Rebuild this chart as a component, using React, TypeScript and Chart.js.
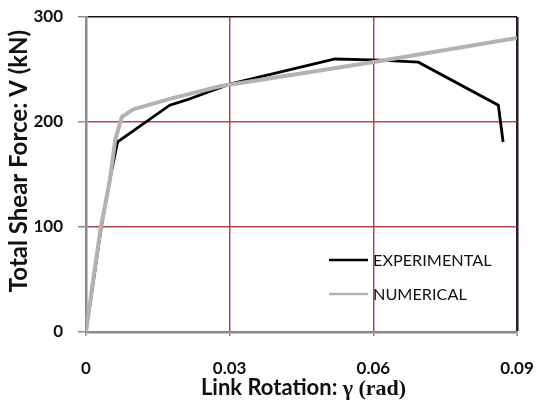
import React, { useEffect, useRef } from 'react';
import { Chart, registerables } from 'chart.js';

Chart.register(...registerables);

// ---- Data ----
const expRotation = [0, 0.0032, 0.0052, 0.0066, 0.0175, 0.021, 0.03, 0.052, 0.0614, 0.0694, 0.0861, 0.0871];
const expShear = [0, 100, 150, 181, 216, 221, 236, 260, 259, 257, 216, 181];

const numRotation = [0, 0.0015, 0.0031, 0.005, 0.0061, 0.0075, 0.0099, 0.0175, 0.028, 0.0614, 0.09];
const numShear = [0, 50, 100, 145, 183, 205, 212, 222, 234, 258, 280];

const xTickValues = [0, 0.03, 0.06, 0.09];
const xTickLabels = ['0', '0.03', '0.06', '0.09'];
const yTickValues = [0, 100, 200, 300];
const yTickLabels = ['0', '100', '200', '300'];

const seriesNames = ['EXPERIMENTAL', 'NUMERICAL'];
const xTitleSans = 'Link Rotation: ';
const xTitleSerif = 'γ (rad)';
const yTitle = 'Total Shear Force: V (kN)';

const SANS = 'Lato, "Open Sans", sans-serif';
const SERIF = '"Liberation Serif", "DejaVu Serif", serif';
const RED = '#b5474a';
const AXIS_GRAY = '#8c8c8c';
const NUM_GRAY = '#b3b3b3';

function fitFont(ctx: CanvasRenderingContext2D, text: string, weight: string, family: string, target: number, max: number) {
  let s = max;
  for (; s > 8; s -= 0.25) {
    ctx.font = `${weight} ${s}px ${family}`;
    if (ctx.measureText(text).width <= target) break;
  }
  return s;
}

const decorPlugin = {
  id: 'decor',
  afterDraw(chart: any) {
    const ctx: CanvasRenderingContext2D = chart.ctx;
    const { left, right, top, bottom } = chart.chartArea;
    ctx.save();
    ctx.fillStyle = '#111';

    // Y title
    const ys = fitFont(ctx, yTitle, 'bold', SANS, 282, 24);
    ctx.font = `bold ${ys}px ${SANS}`;
    ctx.translate(19, top + 144);
    ctx.rotate(-Math.PI / 2);
    ctx.textAlign = 'center';
    ctx.textBaseline = 'middle';
    ctx.fillText(yTitle, 0, 0);
    ctx.setTransform(1, 0, 0, 1, 0, 0);

    // X title (mixed fonts)
    let s = 24;
    let w1 = 0, w2 = 0;
    for (; s > 8; s -= 0.25) {
      ctx.font = `bold ${s}px ${SANS}`;
      w1 = ctx.measureText(xTitleSans).width;
      ctx.font = `bold ${s}px ${SERIF}`;
      w2 = ctx.measureText(xTitleSerif).width;
      if (w1 + w2 <= 207) break;
    }
    const cx = (left + right) / 2 + 2;
    const x0 = cx - (w1 + w2) / 2;
    const by = bottom + 63;
    ctx.textAlign = 'left';
    ctx.textBaseline = 'alphabetic';
    ctx.font = `bold ${s}px ${SANS}`;
    ctx.fillText(xTitleSans, x0, by);
    ctx.font = `bold ${s}px ${SERIF}`;
    ctx.fillText(xTitleSerif, x0 + w1, by);

    // Legend
    const lx0 = left + 243;
    const lx1 = left + 282;
    const tx = left + 287;
    const rows = [
      { y: top + 243, color: '#000', width: 2.5 },
      { y: top + 277, color: NUM_GRAY, width: 2.5 },
    ];
    const ls = fitFont(ctx, seriesNames[0], 'normal', SANS, 119, 20);
    rows.forEach((r, i) => {
      ctx.strokeStyle = r.color;
      ctx.lineWidth = r.width;
      ctx.beginPath();
      ctx.moveTo(lx0, r.y);
      ctx.lineTo(lx1, r.y);
      ctx.stroke();
      ctx.fillStyle = '#111';
      ctx.font = `normal ${ls}px ${SANS}`;
      ctx.textBaseline = 'middle';
      ctx.fillText(seriesNames[i], tx, r.y + 1);
    });
    ctx.restore();
  },
};

export default function App() {
  const ref = useRef<HTMLCanvasElement | null>(null);
  useEffect(() => {
    if (!ref.current) return;
    const chart = new Chart(ref.current, {
      type: 'line',
      data: {
        datasets: [
          {
            label: seriesNames[0],
            data: expRotation.map((x, i) => ({ x, y: expShear[i] })),
            borderColor: '#000',
            borderWidth: 2.8,
            pointRadius: 0,
            tension: 0,
            fill: false,
            order: 1,
          },
          {
            label: seriesNames[1],
            data: numRotation.map((x, i) => ({ x, y: numShear[i] })),
            borderColor: NUM_GRAY,
            borderWidth: 4,
            pointRadius: 0,
            tension: 0,
            fill: false,
            order: 0,
          },
        ],
      },
      options: {
        responsive: false,
        animation: false,
        devicePixelRatio: 1,
        layout: { padding: { left: 0, top: 17, right: 21, bottom: 0 } },
        plugins: { legend: { display: false }, tooltip: { enabled: false }, title: { display: false } },
        scales: {
          x: {
            type: 'linear',
            min: 0,
            max: 0.09,
            afterBuildTicks: (scale: any) => {
              scale.ticks = xTickValues.map((v) => ({ value: v }));
            },
            afterFit: (scale: any) => {
              scale.height = 78;
              scale.paddingLeft = 0;
              scale.paddingRight = 0;
            },
            ticks: {
              callback: (_v: any, i: number) => xTickLabels[i],
              font: { family: SANS, size: 17, weight: 'bold' },
              color: '#111',
              padding: 22,
              maxRotation: 0,
              autoSkip: false,
            },
            grid: {
              color: (c: any) => {
                const v = c.tick ? c.tick.value : null;
                if (v === 0) return 'rgba(0,0,0,0)';
                if (v === 0.09) return '#2b1b1b';
                return RED;
              },
              lineWidth: (c: any) => (c.tick && c.tick.value === 0.09 ? 2.5 : 1.5),
              tickColor: AXIS_GRAY,
              tickLength: 4,
              tickWidth: 1.5,
            },
            border: { color: AXIS_GRAY, width: 2.5 },
          },
          y: {
            type: 'linear',
            min: 0,
            max: 300,
            afterBuildTicks: (scale: any) => {
              scale.ticks = yTickValues.map((v) => ({ value: v }));
            },
            afterFit: (scale: any) => {
              scale.width = 86;
              scale.paddingTop = 0;
              scale.paddingBottom = 0;
            },
            ticks: {
              callback: (_v: any, i: number) => yTickLabels[i],
              font: { family: SANS, size: 17, weight: 'bold' },
              color: '#111',
              padding: 15,
            },
            grid: {
              color: (c: any) => {
                const v = c.tick ? c.tick.value : null;
                if (v === 0) return 'rgba(0,0,0,0)';
                if (v === 300) return '#111';
                return RED;
              },
              lineWidth: 1.5,
              tickColor: AXIS_GRAY,
              tickLength: 8,
              tickWidth: 1.5,
            },
            border: { color: AXIS_GRAY, width: 2.5 },
          },
        },
      } as any,
      plugins: [decorPlugin],
    });
    return () => chart.destroy();
  }, []);

  return (
    <div style={{ position: 'fixed', left: 0, top: 0, width: 538, height: 410, background: '#fff' }}>
      <canvas ref={ref} width={538} height={410} style={{ display: 'block', width: 538, height: 410 }} />
    </div>
  );
}
